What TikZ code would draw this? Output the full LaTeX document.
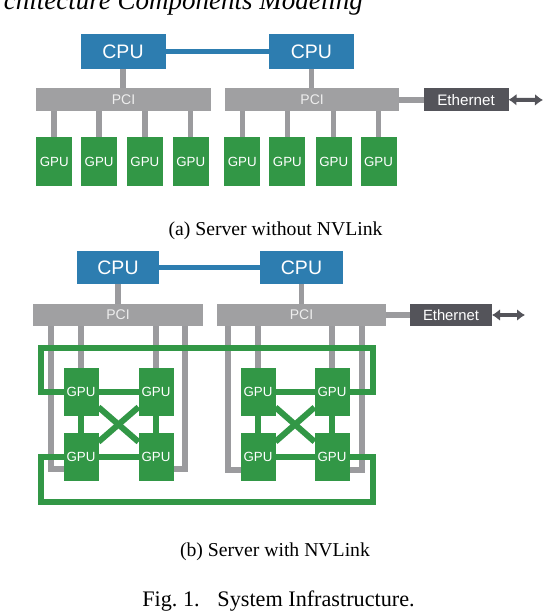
\documentclass[tikz,border=0pt]{standalone}
\usepackage{fontspec}
\setmainfont{Liberation Serif}
\newfontfamily\boxfont{Liberation Sans}
\usetikzlibrary{arrows.meta,backgrounds}
\definecolor{cpublue}{RGB}{45,125,176}
\definecolor{gpugreen}{RGB}{50,151,70}
\definecolor{pcigray}{RGB}{160,160,162}
\definecolor{linegray}{RGB}{155,155,158}
\definecolor{ethgray}{RGB}{84,84,90}
\definecolor{pcitext}{RGB}{238,238,238}
\begin{document}
\begin{tikzpicture}[x=1pt,y=-1pt,
  box/.style={rectangle, inner sep=0pt, outer sep=0pt, text=white},
  cpubox/.style={box, fill=cpublue, font=\boxfont\fontsize{19.5}{19.5}\selectfont},
  pcibox/.style={box, fill=pcigray, text=pcitext, font=\boxfont\fontsize{14}{14}\selectfont},
  ethbox/.style={box, fill=ethgray, font=\boxfont\fontsize{15.2}{15.2}\selectfont},
  gpubox/.style={box, fill=gpugreen, font=\boxfont\fontsize{13.3}{13.3}\selectfont},
  pciline/.style={draw=linegray, line width=5.5pt},
  cpuline/.style={draw=cpublue, line width=5.5pt},
  nvline/.style={draw=gpugreen, line width=6pt, line join=miter},
  ethline/.style={draw=linegray, line width=6pt},
  netarrow/.style={draw=ethgray, line width=4pt, {Latex[length=8pt,width=12pt]}-{Latex[length=8pt,width=12pt]}},
  caption/.style={font=\fontsize{19.7}{20}\selectfont, inner sep=0pt},
]
\useasboundingbox (0,0) rectangle (544,612);
\begin{scope}[on background layer]
  \fill[white] (0,0) rectangle (544,612);
\end{scope}

% cut-off heading
\node[font=\itshape\fontsize{27}{27}\selectfont, anchor=base east, inner sep=0pt] (title) at (363,9.5) {Architecture Components Modeling};

% ===== (a) Server without NVLink =====
\node[cpubox, minimum width=85pt, minimum height=35pt] (ca1) at (123,51.5) {CPU};
\node[cpubox, minimum width=85pt, minimum height=35pt] (ca2) at (311.4,51.5) {CPU};
\node[pcibox, minimum width=174.5pt, minimum height=23.3pt] (pa1) at (123.5,99.7) {PCI};
\node[pcibox, minimum width=174.2pt, minimum height=23.3pt] (pa2) at (312.1,99.7) {PCI};
\node[ethbox, minimum width=85pt, minimum height=23.3pt] (ea) at (466,99.7) {Ethernet};
\coordinate (eaend) at (543,100);
\foreach \i/\x in {1/54.2,2/99.1,3/144.9,4/190.7,5/242.3,6/287.4,7/333.7,8/378.5}
  \node[gpubox, minimum width=36pt, minimum height=48.4pt] (ga\i) at (\x,161.5) {GPU};

\begin{scope}[on background layer]
  \draw[cpuline] (ca1) -- (ca2);
  \draw[pciline] (ca1.south) -- (ca1.south |- pa1.north);
  \draw[pciline] (ca2.south) -- (ca2.south |- pa2.north);
  \foreach \i in {1,2,3,4} \draw[pciline] (ga\i.north) -- (ga\i.north |- pa1.south);
  \foreach \i in {5,6,7,8} \draw[pciline] (ga\i.north) -- (ga\i.north |- pa2.south);
  \draw[ethline] (pa2.east) -- (ea.west);
\end{scope}
\draw[netarrow] (ea.east) -- (eaend);

\node[caption, anchor=base] (capa) at (275.5,235) {(a) Server without NVLink};

% ===== (b) Server with NVLink =====
\node[cpubox, minimum width=82pt, minimum height=33pt] (cb1) at (118,267.5) {CPU};
\node[cpubox, minimum width=83pt, minimum height=33pt] (cb2) at (301.5,267.5) {CPU};
\node[pcibox, minimum width=170pt, minimum height=22pt] (pb1) at (118,315) {PCI};
\node[pcibox, minimum width=169pt, minimum height=22pt] (pb2) at (301.5,315) {PCI};
\node[ethbox, minimum width=82pt, minimum height=22pt, font=\boxfont\fontsize{14.8}{14.8}\selectfont] (eb) at (451,315) {Ethernet};
\coordinate (ebend) at (525,315);

\foreach \n/\x/\y in {ltl/81/392, ltr/156/392, lbl/81/457, lbr/156/457,
                      rtl/258/392, rtr/332/392, rbl/258/457, rbr/332/457}
  \node[gpubox, minimum width=35pt, minimum height=48pt] (\n) at (\x,\y) {GPU};

\coordinate (lk1) at (51,469);
\coordinate (lk2) at (185,469);
\coordinate (rk1) at (228,470);
\coordinate (rk2) at (362,470);
\coordinate (ta) at (41,348);
\coordinate (tb) at (373,348);
\coordinate (ba) at (41,502);
\coordinate (bb) at (373,502);

\begin{scope}[on background layer]
  \draw[cpuline] (cb1) -- (cb2);
  \draw[pciline] (cb1.south) -- (cb1.south |- pb1.north);
  \draw[pciline] (cb2.south) -- (cb2.south |- pb2.north);
  \draw[ethline] (pb2.east) -- (eb.west);
  % PCI links to GPUs
  \draw[pciline] (pb1.south -| lk1) -- (lk1) -- (lk1 -| lbl.west);
  \draw[pciline] (pb1.south -| lk2) -- (lk2) -- (lk2 -| lbr.east);
  \draw[pciline] (ltl.north) -- (ltl.north |- pb1.south);
  \draw[pciline] (ltr.north) -- (ltr.north |- pb1.south);
  \draw[pciline] (pb2.south -| rk1) -- (rk1) -- (rk1 -| rbl.west);
  \draw[pciline] (pb2.south -| rk2) -- (rk2) -- (rk2 -| rbr.east);
  \draw[pciline] (rtl.north) -- (rtl.north |- pb2.south);
  \draw[pciline] (rtr.north) -- (rtr.north |- pb2.south);
  % NVLink inside each block
  \foreach \b in {l,r} {
    \draw[nvline] (\b tl) -- (\b tr);
    \draw[nvline] (\b bl) -- (\b br);
    \draw[nvline] (\b tl) -- (\b bl);
    \draw[nvline] (\b tr) -- (\b br);
    \draw[nvline] (\b tl) -- (\b br);
    \draw[nvline] (\b tr) -- (\b bl);
  }
  % NVLink loops between blocks
  \draw[nvline] (ltl.west) -- (ltl.west -| ta) -- (ta) -- (tb) -- (tb |- rtr.east) -- (rtr.east);
  \draw[nvline] (lbl.west) -- (lbl.west -| ba) -- (ba) -- (bb) -- (bb |- rbr.east) -- (rbr.east);
\end{scope}
\draw[netarrow] (eb.east) -- (ebend);

\node[caption, anchor=base] (capb) at (275,556) {(b) Server with NVLink};
\node[caption, font=\fontsize{22.2}{22}\selectfont, anchor=base] (fig) at (278.5,606.5) {Fig.~1.\hspace{0.8em}System Infrastructure.};
\end{tikzpicture}
\end{document}
